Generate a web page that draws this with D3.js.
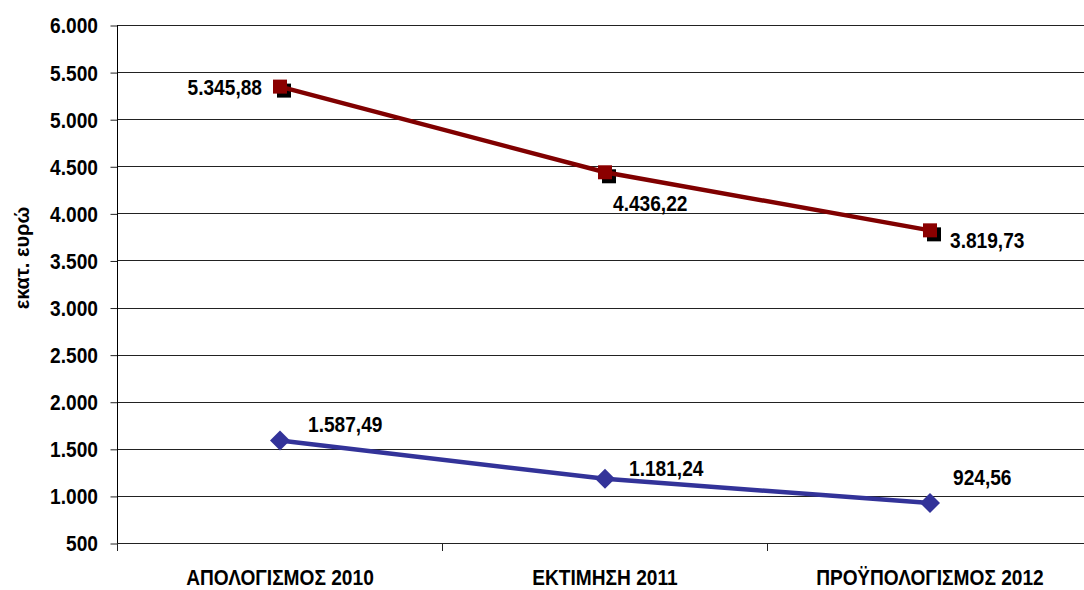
<!DOCTYPE html>
<html>
<head>
<meta charset="utf-8">
<script src="https://cdn.jsdelivr.net/npm/d3@7"></script>
<style>
  body { margin: 0; background: #fff; }
  text { font-family: "Liberation Sans", Arial, sans-serif; font-weight: bold; fill: #000; }
</style>
</head>
<body>
<script>
var width = 1084,
    height = 590;

// data
var categories = ["ΑΠΟΛΟΓΙΣΜΟΣ 2010", "ΕΚΤΙΜΗΣΗ 2011", "ΠΡΟΫΠΟΛΟΓΙΣΜΟΣ 2012"];
var redValues = [5345.88, 4436.22, 3819.73];
var blueValues = [1587.49, 1181.24, 924.56];
var yTicks = [500, 1000, 1500, 2000, 2500, 3000, 3500, 4000, 4500, 5000, 5500, 6000];
var yTitle = "εκατ. ευρώ";

// label placement [dx, dy, anchor]
var redLabelPos = [[-18, 8, "end"], [8, 39, "start"], [20, 18, "start"]];
var blueLabelPos = [[28, -9, "start"], [24, -3, "start"], [23, -18, "start"]];

var narrow = 0.87; // squeeze to mimic a narrow bold face

var gr = d3.formatLocale({decimal: ",", thousands: ".", grouping: [3], currency: ["", "€"]});
var fmtTick = gr.format(",.0f"),
    fmtVal = gr.format(",.2f");

var left = 117.5;

var svg = d3.select("body").append("svg")
    .attr("width", width)
    .attr("height", height);

var x = d3.scaleBand()
    .domain(categories)
    .range([left, left + 975]);
var y = d3.scaleLinear()
    .domain([500, 6000])
    .range([543, 25]);

function cx(i) { return x(categories[i]) + x.bandwidth() / 2; }
function place(px, py) { return "translate(" + px + "," + py + ") scale(" + narrow + ",1)"; }

// gridlines
svg.append("g").selectAll("line")
    .data(yTicks)
    .enter().append("line")
    .attr("x1", left)
    .attr("x2", width)
    .attr("y1", function (d) { return Math.round(y(d)) + 0.5; })
    .attr("y2", function (d) { return Math.round(y(d)) + 0.5; })
    .attr("stroke", "#222")
    .attr("stroke-width", 1);

// y axis
var yAxis = d3.axisLeft(y)
    .tickValues(yTicks)
    .tickFormat(fmtTick)
    .tickSize(7);
var gy = svg.append("g")
    .attr("transform", "translate(" + left + ",0)")
    .call(yAxis);
gy.select(".domain").remove();
gy.selectAll(".tick line").attr("stroke", "#222").attr("transform", "translate(0,0.5)");
gy.selectAll(".tick text")
    .attr("x", 0)
    .attr("dy", "0.36em")
    .attr("transform", place(-19.5, 0))
    .style("font-size", "22px")
    .attr("fill", "#000");
gy.append("line")
    .attr("x1", 0).attr("x2", 0)
    .attr("y1", 25).attr("y2", 551)
    .attr("stroke", "#000");

// x axis ticks at band boundaries
svg.append("g").selectAll("line")
    .data(categories)
    .enter().append("line")
    .attr("x1", function (d) { return x(d); })
    .attr("x2", function (d) { return x(d); })
    .attr("y1", 543)
    .attr("y2", 551)
    .attr("stroke", "#222");

svg.append("g").selectAll("text")
    .data(categories)
    .enter().append("text")
    .attr("transform", function (d) { return place(x(d) + x.bandwidth() / 2, 585); })
    .attr("text-anchor", "middle")
    .style("font-size", "22px")
    .text(function (d) { return d; });

// y title
svg.append("text")
    .attr("transform", "translate(29,258) rotate(-90)")
    .attr("text-anchor", "middle")
    .style("font-size", "20px")
    .text(yTitle);

var line = d3.line()
    .x(function (d, i) { return cx(i); })
    .y(function (d) { return y(d); });

// blue series
svg.append("path")
    .attr("d", line(blueValues))
    .attr("fill", "none")
    .attr("stroke", "#333399")
    .attr("stroke-width", 4.5);
svg.append("g").selectAll("path")
    .data(blueValues)
    .enter().append("path")
    .attr("d", d3.symbol().type(d3.symbolSquare).size(200))
    .attr("transform", function (d, i) { return "translate(" + cx(i) + "," + y(d) + ") rotate(45)"; })
    .attr("fill", "#333399");

// red series: shadow markers, line, markers
svg.append("g").selectAll("rect")
    .data(redValues)
    .enter().append("rect")
    .attr("x", function (d, i) { return cx(i) - 7 + 4; })
    .attr("y", function (d) { return y(d) - 7 + 4; })
    .attr("width", 14)
    .attr("height", 14)
    .attr("fill", "#000");
svg.append("path")
    .attr("d", line(redValues))
    .attr("fill", "none")
    .attr("stroke", "#800000")
    .attr("stroke-width", 4.5);
svg.append("g").selectAll("rect")
    .data(redValues)
    .enter().append("rect")
    .attr("x", function (d, i) { return cx(i) - 7; })
    .attr("y", function (d) { return y(d) - 7; })
    .attr("width", 14)
    .attr("height", 14)
    .attr("fill", "#8b0000");

// data labels
function labels(values, pos) {
    svg.append("g").selectAll("text")
        .data(values)
        .enter().append("text")
        .attr("transform", function (d, i) { return place(cx(i) + pos[i][0], y(d) + pos[i][1]); })
        .attr("text-anchor", function (d, i) { return pos[i][2]; })
        .style("font-size", "22px")
        .text(function (d) { return fmtVal(d); });
}
labels(redValues, redLabelPos);
labels(blueValues, blueLabelPos);
</script>
</body>
</html>
